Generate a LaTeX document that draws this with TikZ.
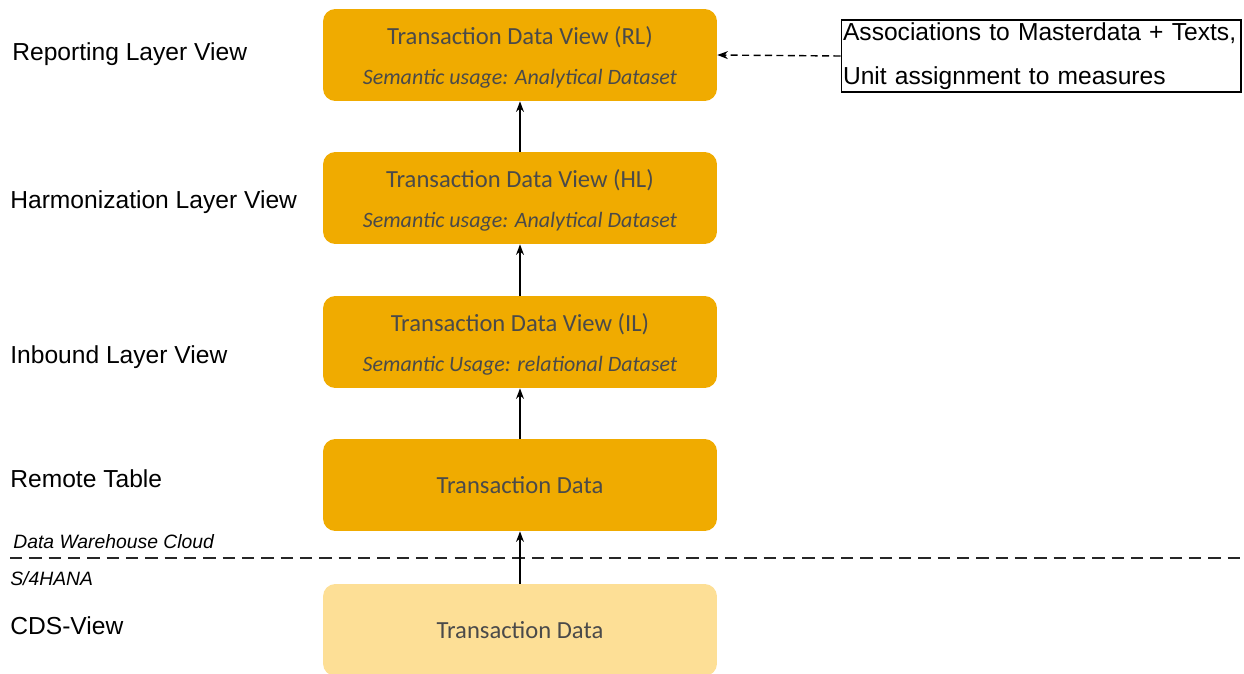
\documentclass[tikz,border=0pt]{standalone}
\usepackage{fontspec}
\setmainfont{Liberation Sans}
\newfontfamily\calibri{Carlito}
\usepackage{xcolor}
\usetikzlibrary{arrows.meta,positioning}
\definecolor{sapgold}{HTML}{F0AB00}
\definecolor{sapsand}{HTML}{FDDF96}
\definecolor{boxtext}{HTML}{4A4A4A}
\newcommand\semantic[1]{{\itshape\fontsize{12.5}{15}\selectfont #1}}
\newcommand\viewtitle[1]{\rule{0pt}{13pt}#1}

\begin{document}
\begin{tikzpicture}[
  x=0.02cm, y=-0.02cm,
  box/.style={fill=sapgold, rounded corners=7pt, minimum width=7.88cm,
              minimum height=1.84cm, align=center, text=boxtext,
              font=\calibri\fontsize{14}{17}\selectfont},
  layer/.style={anchor=base west, inner sep=0pt,
                font=\fontsize{14}{17}\selectfont},
  system/.style={anchor=base west, inner sep=0pt,
                 font=\itshape\fontsize{11}{13}\selectfont},
  arr/.style={-{Stealth[length=6pt,width=4.5pt]}, line width=0.8pt},
  note/.style={draw, line width=0.6pt, minimum width=8cm, minimum height=1.44cm,
               text width=7.92cm, align=left, inner xsep=1pt, inner ysep=1pt,
               font=\fontsize{14}{17}\selectfont}
]
  \useasboundingbox (0,0) rectangle (1244,673);

  % data flow boxes
  \node[box] (rl)     at (520,55)  {\viewtitle{Transaction Data View (RL)}\\[6pt]\semantic{Semantic usage: Analytical Dataset}};
  \node[box] (hl)     at (520,198) {\viewtitle{Transaction Data View (HL)}\\[6pt]\semantic{Semantic usage: Analytical Dataset}};
  \node[box] (il)     at (520,342) {\viewtitle{Transaction Data View (IL)}\\[6pt]\semantic{Semantic Usage: relational Dataset}};
  \node[box] (remote) at (520,485) {Transaction Data};
  \node[box, fill=sapsand] (cds) at (520,630) {Transaction Data};

  % layer names
  \node[layer] (lrl)     at (12,60)  {Reporting Layer View};
  \node[layer] (lhl)     at (10,208) {Harmonization Layer View};
  \node[layer] (lil)     at (10,363) {Inbound Layer View};
  \node[layer] (lremote) at (10,487) {Remote Table};
  \node[layer] (lcds)    at (10,634) {CDS-View};

  % system border
  \node[system] (dwc) at (13,548) {Data Warehouse Cloud};
  \node[system] (s4)  at (10,585) {S/4HANA};
  \draw[line width=1.1pt, dash pattern=on 7pt off 4pt, black!85] (10,558) -- (1244,558);

  \node[note] (assoc) at (1041,56)
    {Associations to Masterdata + Texts,\\[8pt]Unit assignment to measures};

  \draw[arr] (cds) -- (remote);
  \draw[arr] (remote) -- (il);
  \draw[arr] (il) -- (hl);
  \draw[arr] (hl) -- (rl);
  \draw[arr, dash pattern=on 4pt off 2.5pt] (assoc.west) -- (rl.east);
\end{tikzpicture}
\end{document}
